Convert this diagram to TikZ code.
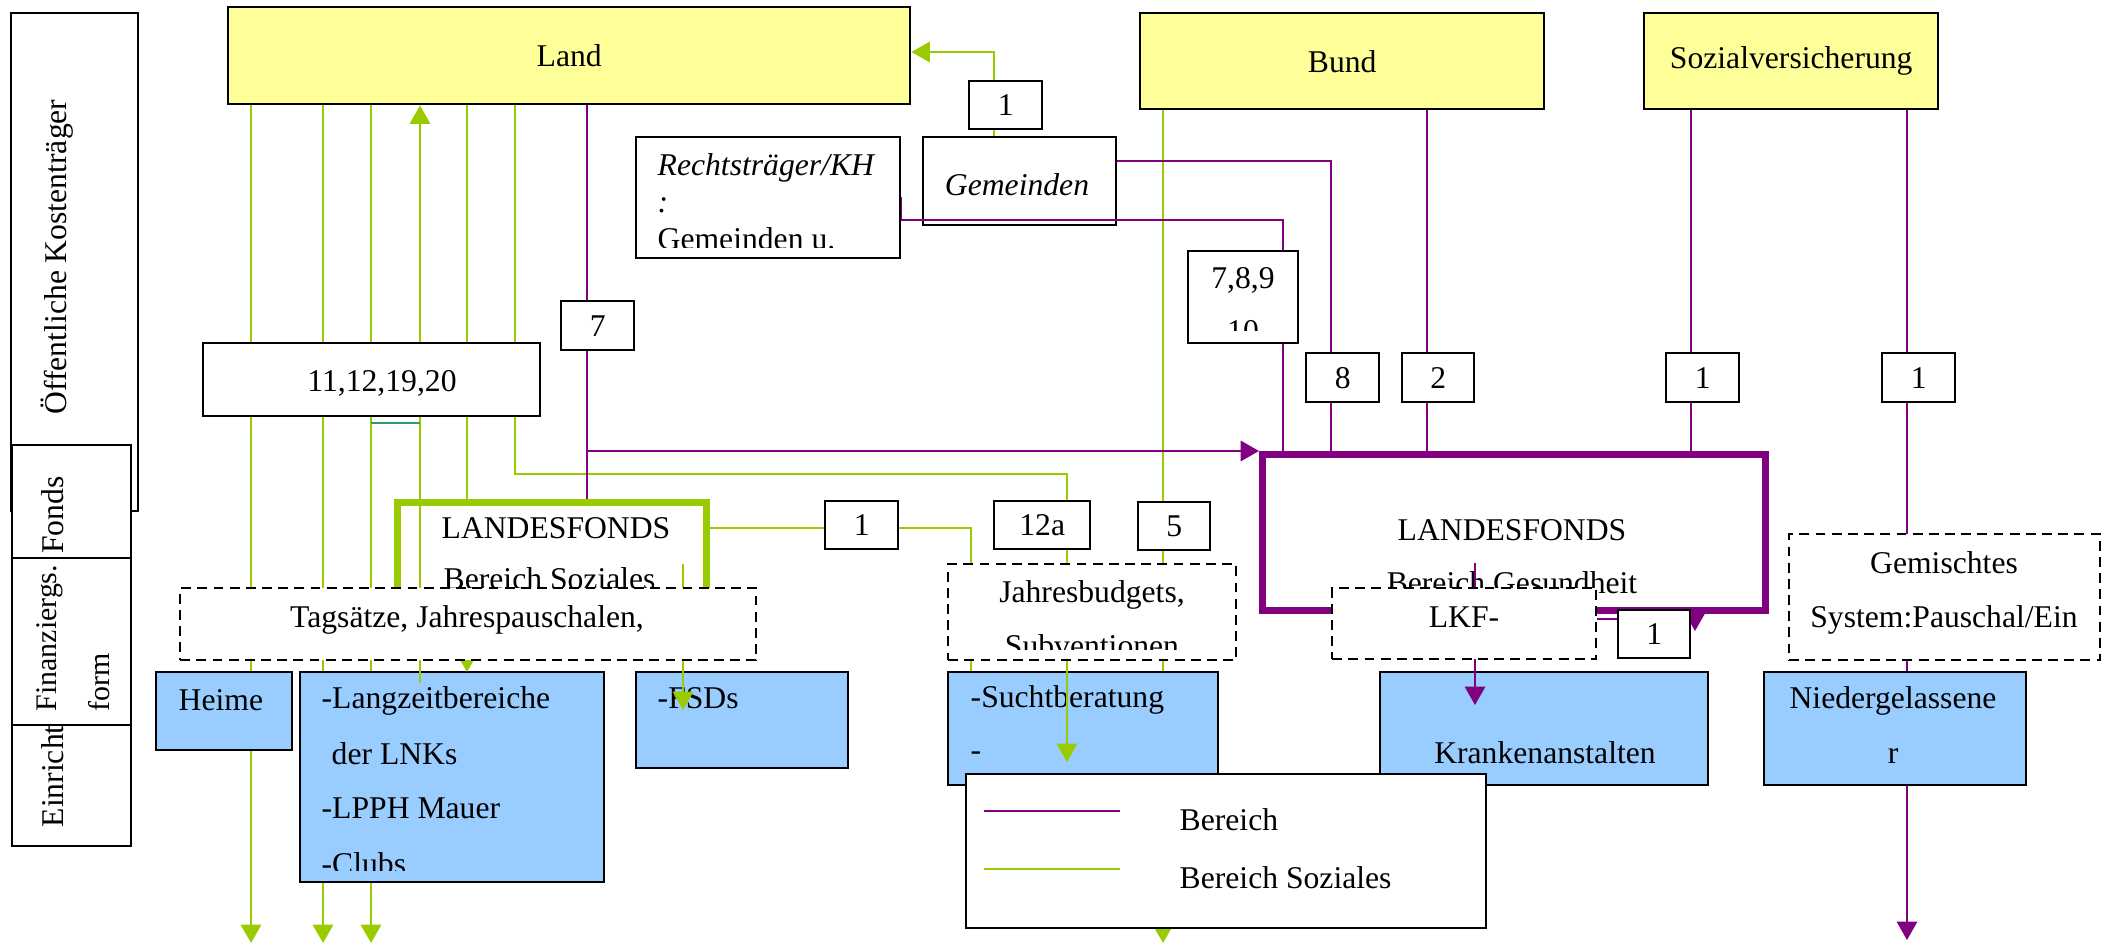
\documentclass[tikz,border=0pt]{standalone}
\usepackage{fontspec}
\setmainfont{Liberation Serif}
\usetikzlibrary{arrows.meta}
\definecolor{landyellow}{RGB}{255,255,153}
\definecolor{unitblue}{RGB}{153,204,255}
\definecolor{sozgreen}{RGB}{153,204,0}
\definecolor{gespurple}{RGB}{128,0,128}
\definecolor{tealline}{RGB}{51,153,102}

\begin{document}
\begin{tikzpicture}[x=0.01cm, y=-0.01cm,
  font=\fontsize{9}{11}\selectfont,
  it/.style={font=\fontsize{9}{11}\selectfont\itshape},
  small/.style={font=\fontsize{8.5}{10}\selectfont},
  wh/.style n args={2}{minimum width=#1*0.01cm, minimum height=#2*0.01cm},
  box/.style={draw, line width=0.7pt, fill=white, inner sep=0pt, anchor=north west},
  ybox/.style={box, fill=landyellow},
  bbox/.style={box, fill=unitblue},
  dbox/.style={box, dash pattern=on 2.8pt off 1.8pt},
  t/.style={inner sep=0pt, anchor=base west},
  tc/.style={inner sep=0pt, anchor=base},
  sline/.style={draw=sozgreen, line width=0.5pt},
  pline/.style={draw=gespurple, line width=0.5pt},
  sarrow/.style={sline, -{Triangle[width=5.8pt,length=5.2pt]}, sozgreen},
  parrow/.style={pline, -{Triangle[width=5.8pt,length=5.2pt]}, gespurple},
]
\useasboundingbox (0,0) rectangle (2112,945);

% ---- row labels on the left
\node[box, wh={127}{498}] (kost) at (10,12) {};
\node[tc, rotate=90] (kostT) at (67,257) {Öffentliche Kostenträger};
\node[box, wh={119}{121}] (einr) at (11,724) {};
\begin{scope}
  \clip (11,724) rectangle (130,845);
  \node[t, rotate=90] (einrT) at (63,828) {Einrichtungen};
\end{scope}
\node[box, wh={119}{167}] (fin) at (11,557) {};
\node[t, small, rotate=90] (finT1) at (57,712) {Finanziergs.};
\node[t, small, rotate=90] (finT2) at (110,712) {form};
\node[box, wh={119}{113}] (fonds) at (11,444) {};
\node[tc, rotate=90] (fondsT) at (63,515) {Fonds};

% ---- public payers
\node[ybox, wh={682}{97}] (land) at (227,6) {Land};
\node[ybox, wh={404}{96}] (bund) at (1139,12) {Bund};
\node[ybox, wh={294}{96}] (sozv) at (1643,12) {Sozialversicherung};

% ---- long flows running behind the facilities
\draw[sarrow] (251,0 |- land.south) -- (251,943);
\draw[sarrow] (323,0 |- land.south) -- (323,943);
\draw[sarrow] (371,0 |- land.south) -- (371,943);
\draw[sarrow] (1163,0 |- bund.south) -- (1163,943);
\draw[parrow] (1907,0 |- sozv.south) -- (1907,940);

% ---- facilities
\node[bbox, wh={136}{78}] (heime) at (155,671) {};
\node[t] (heimeT) at (178,710) {Heime};
\node[bbox, wh={304}{210}] (lnk) at (299,671) {};
\begin{scope}
  \clip (299,671) rectangle (603,870);
  \node[t] (lnk1) at (321,708) {-Langzeitbereiche};
  \node[t] (lnk2) at (331,764) {der LNKs};
  \node[t] (lnk3) at (321,818) {-LPPH Mauer};
  \node[t] (lnk4) at (321,874) {-Clubs};
\end{scope}
\node[bbox, wh={212}{96}] (fsd) at (635,671) {};
\node[t] (fsdT) at (657,708) {-FSDs};
\node[bbox, wh={270}{113}] (sucht) at (947,671) {};
\node[t] (sucht1) at (970,707) {-Suchtberatung};
\node[t] (sucht2) at (970,760) {-};
\node[bbox, wh={328}{113}] (kh) at (1379,671) {};
\node[tc] (khT) at (1545,763) {Krankenanstalten};
\node[bbox, wh={262}{113}] (ndg) at (1763,671) {};
\node[tc] (ndg1) at (1893,708) {Niedergelassene};
\node[tc] (ndg2) at (1893,763) {r};

% ---- health fund
\node[box, draw=gespurple, line width=2pt, wh={503}{156}] (lfg) at (1259,451) {};
\node[tc] (lfgT1) at (1512,540) {LANDESFONDS};
\node[tc] (lfgT2) at (1512,593) {Bereich Gesundheit};

% ---- hospital owners and municipalities
\node[box, wh={264}{121}] (recht) at (635,136) {};
\begin{scope}
  \clip (635,136) rectangle (899,247);
  \node[t, it] (recht1) at (657,175) {Rechtsträger/KH};
  \node[t, it] (recht2) at (657,212) {:};
  \node[t] (recht3) at (657,249) {Gemeinden u.};
\end{scope}
\node[box, wh={193}{88}] (gem) at (922,136) {};
\node[tc, it] (gemT) at (1017,195) {Gemeinden};

% ---- health flows into the fund
\draw[pline] (gem.east |- 0,161) -- (1331,161) -- (1331,0 |- lfg.north);
\draw[pline] (recht.east |- 0,197) -- (recht.east |- 0,220) -- (1283,220) -- (1283,0 |- lfg.north);
\draw[pline] (1427,0 |- bund.south) -- (1427,0 |- lfg.north);
\draw[pline] (1691,0 |- sozv.south) -- (1691,0 |- lfg.north);

% ---- municipalities pay the Land
\draw[sarrow] (994,0 |- gem.north) -- (994,52) -- (land.east |- 0,52);

% ---- social flows
\draw[sarrow] (467,0 |- land.south) -- (467,672);
\draw[sarrow] (515,0 |- land.south) -- (515,474) -- (1067,474) -- (1067,762);

% ---- social fund
\node[box, draw=sozgreen, line width=2pt, wh={309}{131}] (lfs) at (394,499) {};
\node[t] (lfsT1) at (441,538) {LANDESFONDS};
\node[t] (lfsT2) at (443,589) {Bereich Soziales};

\draw[pline] (587,0 |- land.south) -- (587,0 |- lfs.north);
\draw[parrow] (587,451) -- (lfg.north west |- 0,451);

\draw[sarrow] (420,683) -- (420,0 |- land.south);
\draw[sarrow] (683,564) -- (683,710);
\draw[sline] (lfs.east |- 0,528) -- (971,528) -- (971,0 |- sucht.north);

\draw[parrow] (1475,563) -- (1475,705);
\draw[parrow] (1695,0 |- lfg.south) -- (1695,631);

% ---- legal references
\node[box, wh={73}{48}] (n1top) at (968,80) {1};
\node[box, wh={73}{49}] (n7) at (560,300) {7};
\node[box, wh={337}{73}] (n11) at (202,342) {};
\node[tc] (n11T) at (382,391) {11,12,19,20};
\draw[draw=tealline, line width=0.6pt] (371,423) -- (420,423);
\node[box, wh={110}{92}] (n789) at (1187,250) {};
\begin{scope}
  \clip (1187,250) rectangle (1297,330);
  \node[tc] (n789a) at (1243,288) {7,8,9};
  \node[tc] (n789b) at (1243,341) {10};
\end{scope}
\node[box, wh={73}{49}] (n8) at (1305,352) {8};
\node[box, wh={72}{49}] (n2) at (1401,352) {2};
\node[box, wh={73}{49}] (n1a) at (1665,352) {1};
\node[box, wh={73}{49}] (n1b) at (1881,352) {1};
\node[box, wh={73}{48}] (n1m) at (824,500) {1};
\node[box, wh={96}{48}] (n12a) at (993,500) {12a};
\node[box, wh={72}{48}] (n5) at (1137,501) {5};

% ---- forms of financing
\node[dbox, wh={576}{72}] (tag) at (179,587) {};
\node[tc] (tagT) at (467,627) {Tagsätze, Jahrespauschalen,};
\node[dbox, wh={288}{96}] (jb) at (947,563) {};
\begin{scope}
  \clip (947,563) rectangle (1235,649);
  \node[tc] (jbT1) at (1092,602) {Jahresbudgets,};
  \node[tc] (jbT2) at (1092,656) {Subventionen};
\end{scope}
\node[dbox, wh={264}{71}] (lkf) at (1331,587) {};
\node[tc] (lkfT) at (1464,627) {LKF-};
\node[dbox, wh={311}{126}] (gmx) at (1788,533) {};
\node[tc] (gmxT1) at (1944,573) {Gemischtes};
\node[tc] (gmxT2) at (1944,627) {System:Pauschal/Ein};

\node[box, wh={72}{48}] (n1k) at (1617,609) {1};
\draw[pline] (lkf.east |- 0,619) -- (n1k.west |- 0,619);

% ---- legend
\node[box, wh={520}{154}] (leg) at (965,773) {};
\draw[pline, line width=0.7pt] (984,811) -- (1120,811);
\node[t] (legP) at (1179,830) {Bereich};
\draw[sline, line width=0.7pt] (984,869) -- (1120,869);
\node[t] (legS) at (1179,888) {Bereich Soziales};
\end{tikzpicture}
\end{document}
